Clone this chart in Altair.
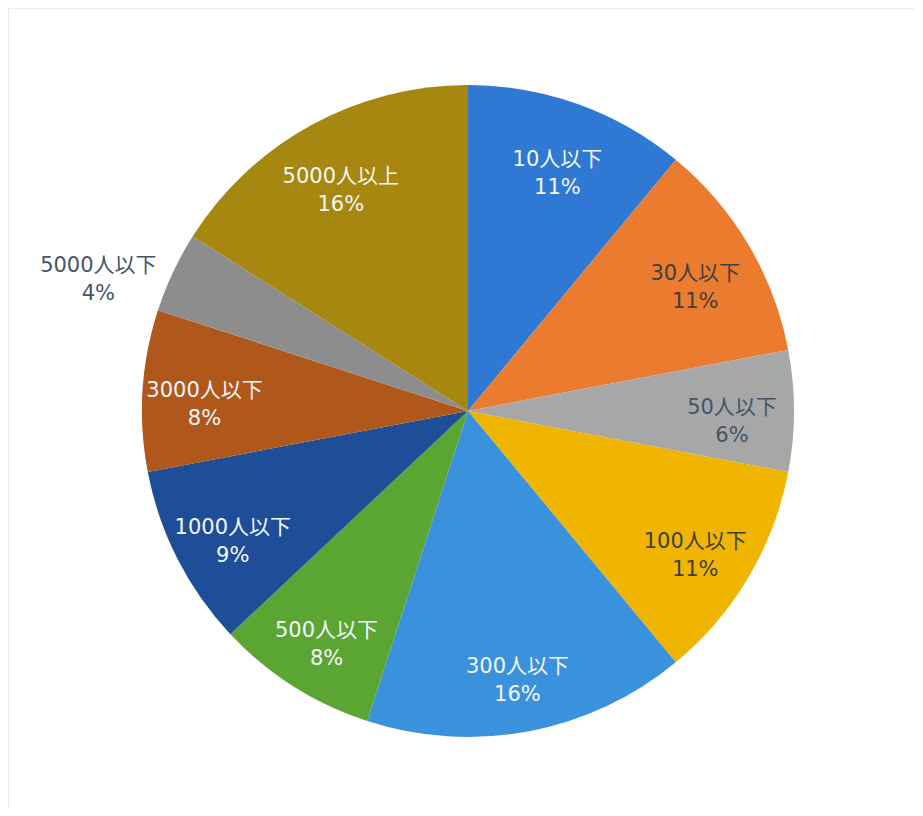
import altair as alt
import pandas as pd

categories = ["10人以下", "30人以下", "50人以下", "100人以下", "300人以下",
              "500人以下", "1000人以下", "3000人以下", "5000人以下", "5000人以上"]
values = [11, 11, 6, 11, 16, 8, 9, 8, 4, 16]
colors = ["#2f78d3", "#eb7b2f", "#a7a7a7", "#efb500", "#3a91dc",
          "#5ba633", "#1f4e98", "#b0571c", "#8d8d8d", "#a6870f"]
label_colors = ["#f4f6fa", "#3f3f3f", "#44546a", "#3f3f3f", "#f4f6fa",
                "#f4f6fa", "#f4f6fa", "#f4f6fa", "#44546a", "#f4f6fa"]
outside = [False, False, False, False, False, False, False, False, True, False]

df = pd.DataFrame({
    "cat": categories,
    "val": values,
    "order": list(range(len(categories))),
    "label": [f"{c}\n{v}%" for c, v in zip(categories, values)],
    "tcolor": label_colors,
    "outside": outside,
})

cx, cy, R = 460, 403, 326

base = alt.Chart(df).encode(
    theta=alt.Theta("val:Q", stack=True),
    order=alt.Order("order:Q"),
)

pie = base.mark_arc(outerRadius=R).encode(
    x=alt.value(cx), y=alt.value(cy),
    color=alt.Color("cat:N", scale=alt.Scale(domain=categories, range=colors), legend=None),
)

text_style = dict(font="DejaVu Sans, Noto Sans CJK JP", fontSize=21, lineBreak="\n",
                  lineHeight=28, align="center", baseline="middle")

inner = base.mark_text(radius=264, dy=-3, **text_style).encode(
    x=alt.value(cx), y=alt.value(cy),
    text="ilabel:N",
    color=alt.Color("tcolor:N", scale=None),
).transform_calculate(ilabel="datum.outside ? '' : datum.label")

outer = base.mark_text(radius=340, dx=-62, dy=0, **text_style).encode(
    x=alt.value(cx), y=alt.value(cy),
    text="olabel:N",
    color=alt.Color("tcolor:N", scale=None),
).transform_calculate(olabel="datum.outside ? datum.label : ''")

chart = alt.layer(pie, inner, outer).properties(
    width=907, height=800, padding=0,
    autosize=alt.AutoSizeParams(type="none"),
).configure(background="white").configure_view(stroke="#e6eef8")

chart.save("out.html", embed_options={"renderer": "svg", "actions": False})
